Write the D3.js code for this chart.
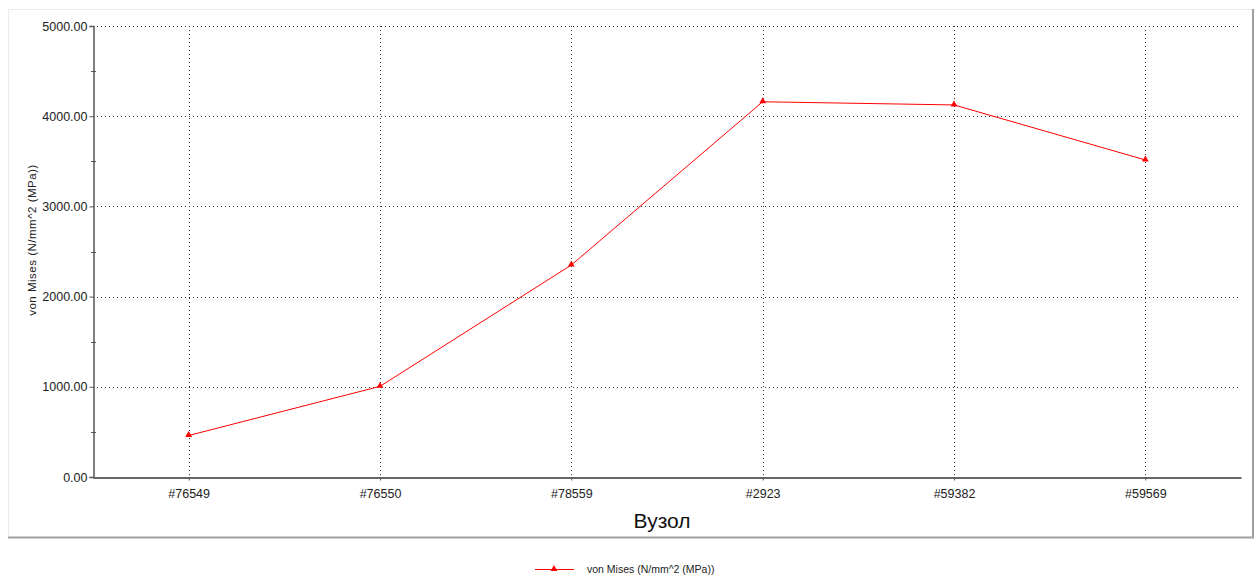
<!DOCTYPE html>
<html><head><meta charset="utf-8">
<script src="https://cdn.jsdelivr.net/npm/d3@7/dist/d3.min.js"></script>
<style>body{margin:0;background:#fff;font-family:"Liberation Sans",Arial,sans-serif;}</style>
</head><body><svg id="c" width="1258" height="579"></svg>
<script>
const categories = ["#76549","#76550","#78559","#2923","#59382","#59569"];
const vonMises = [460, 1005, 2350, 4160, 4125, 3515];
const yTicks = [0,1000,2000,3000,4000,5000];
const yMinorTicks = [500,1500,2500,3500,4500];
const seriesName = "von Mises (N/mm^2 (MPa))";
const yTitle = "von Mises (N/mm^2 (MPa))";
const xTitle = "Вузол";

const svg = d3.select("#c");
const pL = 93, pR = 1241, pT = 26, pB = 477;

// panel
svg.append("rect").attr("x",8.5).attr("y",9.5).attr("width",1244).attr("height",528)
  .attr("fill","#fff").attr("stroke","#ececec").attr("stroke-width",1);
svg.append("line").attr("x1",8).attr("x2",1254).attr("y1",537.5).attr("y2",537.5).attr("stroke","#a0a0a0").attr("stroke-width",2);
svg.append("line").attr("x1",1253).attr("x2",1253).attr("y1",9).attr("y2",538).attr("stroke","#a0a0a0").attr("stroke-width",2);

const x = d3.scalePoint().domain(categories).range([pL, pR]).padding(0.5);
const y = d3.scaleLinear().domain([0,5000]).range([pB, pT]);

// grid
const g = svg.append("g");
g.selectAll("line.h").data(yTicks.filter(d=>d>0)).join("line")
  .attr("x1",pL).attr("x2",pR).attr("y1",d=>Math.round(y(d))+0.5).attr("y2",d=>Math.round(y(d))+0.5)
  .attr("stroke","#333").attr("stroke-dasharray","1,3");
g.selectAll("line.v").data(categories).join("line")
  .attr("x1",d=>Math.round(x(d))+0.5).attr("x2",d=>Math.round(x(d))+0.5).attr("y1",pT).attr("y2",pB)
  .attr("stroke","#333").attr("stroke-dasharray","1,3");

// y axis
const ya = svg.append("g").attr("transform",`translate(${pL+0.5},0)`)
  .call(d3.axisLeft(y).tickValues(yTicks).tickFormat(d3.format(".2f")).tickSize(4).tickPadding(2));
ya.select(".domain").attr("stroke","#555").attr("stroke-width",1.5);
ya.selectAll(".tick line").attr("stroke","#555");
ya.selectAll("text").attr("font-family","'Liberation Sans',Arial,sans-serif").attr("font-size",12.5).attr("fill","#222");
svg.append("g").selectAll("line").data(yMinorTicks).join("line")
  .attr("x1",pL-2).attr("x2",pL+3).attr("y1",d=>Math.round(y(d))+0.5).attr("y2",d=>Math.round(y(d))+0.5)
  .attr("stroke","#555");

// x axis
const xa = svg.append("g").attr("transform",`translate(0,${pB+0.5})`)
  .call(d3.axisBottom(x).tickSize(3).tickPadding(9).tickSizeOuter(0));
xa.select(".domain").attr("stroke","#666").attr("stroke-width",2);
xa.selectAll(".tick line").attr("stroke","#555");
xa.selectAll("text").attr("font-family","'Liberation Sans',Arial,sans-serif").attr("font-size",12.5).attr("fill","#222");

// titles
svg.append("text").attr("x",(pL+pR)/2 - 5).attr("y",528).attr("text-anchor","middle")
  .attr("font-size",21).attr("fill","#111").text(xTitle);
svg.append("text").attr("transform","translate(36,240) rotate(-90)").attr("text-anchor","middle")
  .attr("font-size",11.5).attr("letter-spacing",0.5).attr("fill","#222").text(yTitle);

// line
const line = d3.line().x((d,i)=>x(categories[i])).y(d=>y(d));
svg.append("path").datum(vonMises).attr("d",line).attr("fill","none").attr("stroke","#ff0000").attr("stroke-width",1);
const tri = d3.symbol().type(d3.symbolTriangle).size(20);
svg.append("g").selectAll("path").data(vonMises).join("path")
  .attr("d",tri).attr("transform",(d,i)=>`translate(${x(categories[i])},${y(d)-0.5})`).attr("fill","#ff0000");

// legend
svg.append("line").attr("x1",535).attr("x2",574).attr("y1",569.5).attr("y2",569.5).attr("stroke","#ff0000");
svg.append("path").attr("d",tri).attr("transform","translate(554,569)").attr("fill","#ff0000");
svg.append("text").attr("x",587).attr("y",573).attr("font-size",10.5).attr("fill","#222").text(seriesName);
</script></body></html>
